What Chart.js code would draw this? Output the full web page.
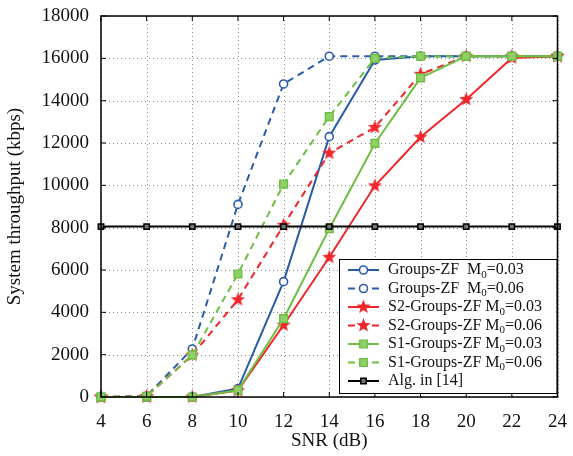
<!DOCTYPE html>
<html>
<head>
<meta charset="utf-8">
<script src="https://cdn.jsdelivr.net/npm/chart.js@4"></script>
<style>
  html, body { margin: 0; padding: 0; background: #fff; }
  #wrap { width: 573px; height: 456px; }
</style>
</head>
<body>
<div id="wrap"><canvas id="chart" width="573" height="456"></canvas></div>
<script>
// data
const snr = [4, 6, 8, 10, 12, 14, 16, 18, 20, 22, 24];
const groupsZF003 = [0, 0, 0, 400, 5450, 12300, 15920, 16100, 16100, 16100, 16100];
const groupsZF006 = [0, 50, 2270, 9100, 14790, 16100, 16100, 16100, 16100, 16100, 16100];
const s2ZF003 = [0, 0, 0, 300, 3400, 6600, 9980, 12280, 14060, 16020, 16100];
const s2ZF006 = [0, 30, 1980, 4600, 8120, 11520, 12740, 15250, 16100, 16100, 16100];
const s1ZF003 = [0, 0, 0, 320, 3700, 7950, 11980, 15080, 16100, 16100, 16100];
const s1ZF006 = [0, 30, 1980, 5810, 10060, 13250, 16000, 16100, 16100, 16100, 16100];
const alg14 = [8050, 8050, 8050, 8050, 8050, 8050, 8050, 8050, 8050, 8050, 8050];
const yTicks = [0, 2000, 4000, 6000, 8000, 10000, 12000, 14000, 16000, 18000];

const BLUE = '#2a5bab';
const RED = '#f0262b';
const GREEN = '#6fbe44';
const FONT = '"Liberation Serif", "DejaVu Serif", serif';

function starImage(color, r) {
    const c = document.createElement('canvas');
    const s = Math.ceil(r * 2 + 2);
    c.width = s; c.height = s;
    const g = c.getContext('2d');
    g.beginPath();
    for (let i = 0; i < 10; i++) {
        const rad = i % 2 === 0 ? r : r * 0.42;
        const a = -Math.PI / 2 + i * Math.PI / 5;
        const px = s / 2 + rad * Math.cos(a), py = s / 2 + rad * Math.sin(a);
        if (i === 0) g.moveTo(px, py); else g.lineTo(px, py);
    }
    g.closePath();
    g.fillStyle = color;
    g.fill();
    return c;
}
const star = starImage(RED, 7.5);

function pts(arr) {
    return snr.map((x, i) => ({ x: x, y: arr[i] }));
}

function series(label, values, color, dashed, marker) {
    const ds = {
        label: label,
        data: pts(values),
        borderColor: color,
        borderWidth: 2,
        borderDash: dashed ? [7, 5] : [],
        tension: 0,
        fill: false,
        clip: false
    };
    if (marker === 'circle') {
        Object.assign(ds, { pointStyle: 'circle', pointRadius: 4, pointBorderWidth: 1.6, pointBackgroundColor: '#fff', pointBorderColor: color });
    } else if (marker === 'star') {
        Object.assign(ds, { pointStyle: star, pointRadius: 7 });
    } else if (marker === 'square') {
        Object.assign(ds, { pointStyle: 'rect', pointRadius: 5.5, pointBorderWidth: 1.4, pointBackgroundColor: '#8fd066', pointBorderColor: color });
    } else {
        Object.assign(ds, { pointStyle: 'rect', pointRadius: 3.8, pointBorderWidth: 1.5, pointBackgroundColor: '#777', pointBorderColor: color });
    }
    return ds;
}

const datasets = [
    series('Groups-ZF  M|=0.03', groupsZF003, BLUE, false, 'circle'),
    series('Groups-ZF  M|=0.06', groupsZF006, BLUE, true, 'circle'),
    series('S2-Groups-ZF M|=0.03', s2ZF003, RED, false, 'star'),
    series('S2-Groups-ZF M|=0.06', s2ZF006, RED, true, 'star'),
    series('S1-Groups-ZF M|=0.03', s1ZF003, GREEN, false, 'square'),
    series('S1-Groups-ZF M|=0.06', s1ZF006, GREEN, true, 'square'),
    series('Alg. in [14]', alg14, '#000', false, 'blacksq')
];
datasets.forEach((d, i) => { d.order = datasets.length - 1 - i; });

// dotted grid under the lines
const gridPlugin = {
    id: 'dotGrid',
    beforeDatasetsDraw(chart) {
        const a = chart.chartArea, g = chart.ctx;
        const xs = chart.scales.x, ys = chart.scales.y;
        g.save();
        g.strokeStyle = '#8c8c8c';
        g.lineWidth = 1;
        g.setLineDash([1, 3]);
        g.beginPath();
        snr.forEach(v => {
            const px = Math.round(xs.getPixelForValue(v)) + 0.5;
            g.moveTo(px, a.top); g.lineTo(px, a.bottom);
        });
        yTicks.forEach(v => {
            const py = Math.round(ys.getPixelForValue(v)) + 0.5;
            g.moveTo(a.left, py); g.lineTo(a.right, py);
        });
        g.stroke();
        g.restore();
    }
};

// box around the plot with matlab-like inward ticks
const boxPlugin = {
    id: 'box',
    afterDraw(chart) {
        const a = chart.chartArea, g = chart.ctx;
        const xs = chart.scales.x, ys = chart.scales.y;
        g.save();
        g.strokeStyle = '#000';
        g.lineWidth = 1.5;
        g.strokeRect(a.left, a.top, a.right - a.left, a.bottom - a.top);
        g.lineWidth = 1;
        g.beginPath();
        snr.forEach(v => {
            const px = xs.getPixelForValue(v);
            g.moveTo(px, a.bottom); g.lineTo(px, a.bottom - 5);
            g.moveTo(px, a.top); g.lineTo(px, a.top + 5);
        });
        yTicks.forEach(v => {
            const py = ys.getPixelForValue(v);
            g.moveTo(a.left, py); g.lineTo(a.left + 5, py);
            g.moveTo(a.right, py); g.lineTo(a.right - 5, py);
        });
        g.stroke();
        g.restore();
    }
};

// legend drawn inside the plot, bottom right
const legendPlugin = {
    id: 'insideLegend',
    afterDraw(chart) {
        const a = chart.chartArea, g = chart.ctx;
        const bx = 339, by = 259, bw = a.right - 1 - bx, bh = 134;
        g.save();
        g.fillStyle = '#fff';
        g.fillRect(bx, by, bw, bh);
        g.strokeStyle = '#000';
        g.lineWidth = 1;
        g.strokeRect(bx + 0.5, by + 0.5, bw, bh);
        chart.data.datasets.forEach((ds, i) => {
            const y = by + 11 + i * 18.5;
            g.strokeStyle = ds.borderColor;
            g.lineWidth = 2;
            g.setLineDash(ds.borderDash);
            g.beginPath();
            g.moveTo(348, y); g.lineTo(379, y);
            g.stroke();
            g.setLineDash([]);
            g.fillStyle = ds.pointBackgroundColor || ds.borderColor;
            g.strokeStyle = ds.pointBorderColor || ds.borderColor;
            g.lineWidth = ds.pointBorderWidth || 1;
            Chart.helpers.drawPoint(g, {
                pointStyle: ds.pointStyle,
                radius: ds.pointRadius,
                borderWidth: ds.pointBorderWidth || 1
            }, 363.5, y);
            // text with subscript
            g.fillStyle = '#111';
            g.textBaseline = 'middle';
            g.textAlign = 'left';
            let x = 388;
            const parts = ds.label.split('|');
            g.font = '16px ' + FONT;
            g.fillText(parts[0], x, y);
            if (parts.length > 1) {
                x += g.measureText(parts[0]).width;
                g.font = '11px ' + FONT;
                g.fillText('0', x, y + 5);
                x += g.measureText('0').width;
                g.font = '16px ' + FONT;
                g.fillText(parts[1], x, y);
            }
        });
        g.restore();
    }
};

new Chart(document.getElementById('chart').getContext('2d'), {
    type: 'line',
    data: { datasets: datasets },
    options: {
        responsive: false,
        animation: false,
        layout: { padding: { top: 16, right: 10, left: 0, bottom: 0 } },
        plugins: {
            legend: { display: false },
            tooltip: { enabled: false }
        },
        scales: {
            x: {
                type: 'linear',
                min: 4,
                max: 24,
                border: { display: false },
                grid: { display: false },
                ticks: {
                    stepSize: 2,
                    padding: 6,
                    color: '#111',
                    font: { family: FONT, size: 19 }
                },
                title: {
                    display: true,
                    text: 'SNR (dB)',
                    color: '#111',
                    padding: { top: 3 },
                    font: { family: FONT, size: 19 }
                },
                afterFit(s) { s.height = 59; }
            },
            y: {
                min: 0,
                max: 18000,
                border: { display: false },
                grid: { display: false },
                afterBuildTicks(s) { s.ticks = yTicks.map(v => ({ value: v })); },
                ticks: {
                    padding: 4,
                    color: '#111',
                    font: { family: FONT, size: 19 },
                    callback: v => String(v)
                },
                title: {
                    display: true,
                    text: 'System throughput (kbps)',
                    color: '#111',
                    padding: { bottom: 0 },
                    font: { family: FONT, size: 19 }
                },
                afterFit(s) { s.width = 101; }
            }
        }
    },
    plugins: [gridPlugin, boxPlugin, legendPlugin]
});
</script>
</body>
</html>
